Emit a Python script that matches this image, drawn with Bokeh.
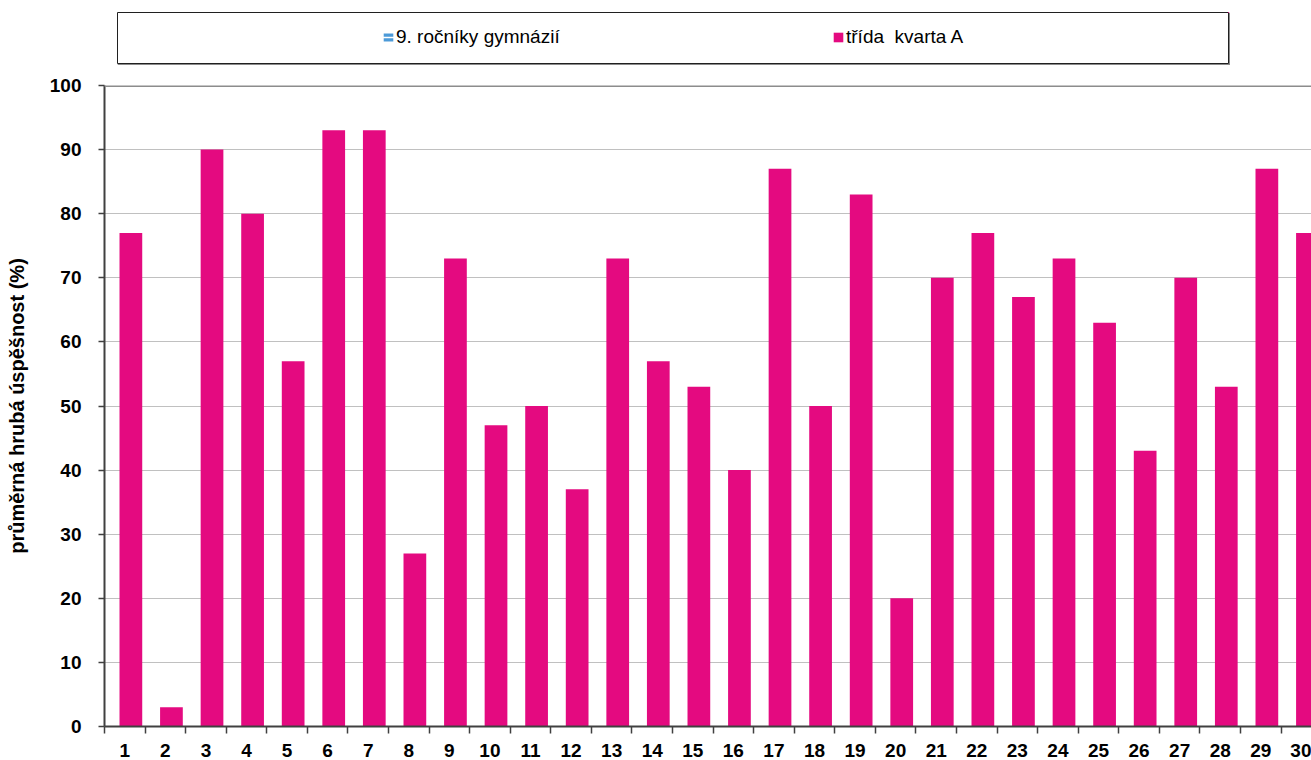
from bokeh.plotting import figure
from bokeh.models import (FixedTicker, Legend, LegendItem, Span,
                          ColumnDataSource, Range1d, Spacer)
from bokeh.layouts import column, row
from bokeh.transform import dodge
from bokeh.embed import file_html
from bokeh.resources import INLINE

# ---- data ----
questions = list(range(1, 31))
kvarta_A = [77, 3, 90, 80, 57, 93, 93, 27, 73, 47, 50, 37, 73, 57, 53,
            40, 87, 50, 83, 20, 70, 77, 67, 73, 63, 43, 70, 53, 87, 77]
# series listed in the legend whose bars are not shown in the picture
gymnazia = [None] * len(questions)
y_ticks = list(range(0, 101, 10))
series_names = ["9. ročníky gymnázií", "třída  kvarta A"]
y_title = "průměrná hrubá úspěšnost (%)"

FONT = "Liberation Sans"
MAGENTA = "#E40A80"
BLUE = "#4c9ad8"
AXIS = "#404040"

# ---------------- main chart ----------------
p = figure(width=1311, height=695, output_backend="svg", toolbar_location=None,
           x_range=Range1d(0.5, 30.25), y_range=Range1d(0, 100),
           min_border_left=104, min_border_top=20, min_border_bottom=34,
           min_border_right=0)
p.background_fill_color = "white"
p.border_fill_color = "white"
p.outline_line_color = None

src_a = ColumnDataSource(dict(q=questions, v=kvarta_A))
src_g = ColumnDataSource(dict(q=questions, v=gymnazia))

p.vbar(x=dodge("q", -0.15, range=p.x_range), top="v", width=0.56,
       source=src_g, fill_color=BLUE, line_color=None)
p.vbar(x=dodge("q", 0.15, range=p.x_range), top="v", width=0.56,
       source=src_a, fill_color=MAGENTA, line_color=None)

# grid
p.xgrid.visible = False
p.ygrid.ticker = FixedTicker(ticks=y_ticks)
p.ygrid.grid_line_color = "#c0c0c0"
p.ygrid.grid_line_width = 1
p.add_layout(Span(location=y_ticks[-1], dimension="width",
                  line_color="#8c8c8c", line_width=3))

# x axis: labels at centers, tick marks at category boundaries
xa = p.xaxis[0]
xa.ticker = FixedTicker(ticks=questions,
                        minor_ticks=[q - 0.5 for q in questions] + [questions[-1] + 0.5])
xa.major_tick_line_color = None
xa.major_tick_out = 0
xa.major_tick_in = 0
xa.minor_tick_in = 0
xa.minor_tick_out = 7
xa.minor_tick_line_color = AXIS
xa.minor_tick_line_width = 1.5
xa.axis_line_color = AXIS
xa.axis_line_width = 2
xa.major_label_standoff = 10
xa.major_label_text_font = FONT
xa.major_label_text_font_style = "bold"
xa.major_label_text_font_size = "19px"
xa.major_label_text_line_height = 1.0
xa.major_label_text_color = "black"

ya = p.yaxis[0]
ya.ticker = FixedTicker(ticks=y_ticks)
ya.minor_tick_line_color = None
ya.major_tick_in = 0
ya.major_tick_out = 6
ya.major_tick_line_color = AXIS
ya.major_tick_line_width = 1.5
ya.axis_line_color = AXIS
ya.axis_line_width = 2
ya.major_label_standoff = 17
ya.major_label_text_font = FONT
ya.major_label_text_font_style = "bold"
ya.major_label_text_font_size = "19px"
ya.major_label_text_color = "black"
ya.axis_label = y_title
ya.axis_label_text_font = FONT
ya.axis_label_text_font_style = "bold"
ya.axis_label_text_font_size = "20px"
ya.axis_label_text_color = "black"
ya.axis_label_standoff = 19

# ---------------- legend box (separate small figure) ----------------
# ranges chosen so that the swatch renderers draw nothing inside this box
lf = figure(width=1113, height=53, output_backend="svg", toolbar_location=None,
            x_range=Range1d(-2, -1), y_range=Range1d(-2, -1),
            x_axis_location=None, y_axis_location=None,
            min_border_left=0, min_border_top=0, min_border_right=2,
            min_border_bottom=2)
lf.grid.visible = False
lf.outline_line_color = "#202020"
lf.outline_line_width = 1
lf.background_fill_color = "white"
lf.border_fill_color = "#8a8a8a"

g1 = lf.vbar(x="q", top="v", width=0.5, source=src_g,
             fill_color=BLUE, line_color=None)
g1b = lf.line(x="q", y="v", source=src_g, line_color="white", line_width=1.5)
g2 = lf.vbar(x="q", top="v", width=0.5, source=src_a,
             fill_color=MAGENTA, line_color=None)

common = dict(orientation="horizontal", padding=0, margin=0,
              border_line_color=None, background_fill_alpha=0,
              label_text_font=FONT, label_text_font_size="19px",
              label_text_color="black", label_standoff=2, label_height=20)
leg1 = Legend(items=[LegendItem(label=series_names[0], renderers=[g1, g1b])],
              location=(265, 15), glyph_width=12, glyph_height=10, **common)
leg2 = Legend(items=[LegendItem(label=series_names[1], renderers=[g2])],
              location=(715, 15), glyph_width=12, glyph_height=12, **common)
lf.add_layout(leg1)
lf.add_layout(leg2)

page = column(Spacer(height=12),
              row(Spacer(width=117), lf),
              p)

open("out.html", "w").write(file_html(page, INLINE))
